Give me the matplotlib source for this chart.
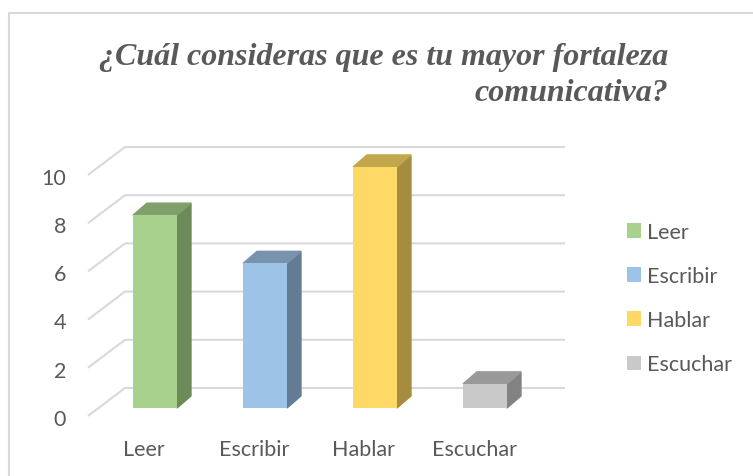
import matplotlib.pyplot as plt
from matplotlib.patches import Polygon

categorias = ["Leer", "Escribir", "Hablar", "Escuchar"]
valores = [8, 6, 10, 1]
ticks = [0, 2, 4, 6, 8, 10]
titulo = "¿Cuál consideras que es tu mayor fortaleza\ncomunicativa?"

frente = ["#A9D18E", "#9DC3E6", "#FFD966", "#C9C9C9"]
lado = ["#6D8A5A", "#637C94", "#A58C3E", "#828282"]
tapa = ["#809F6B", "#7893AE", "#C3A74C", "#999999"]

gris = "#595959"
plt.rcParams["font.family"] = ["Lato", "DejaVu Sans"]

fig = plt.figure(figsize=(7.53, 4.77), dpi=100)
ax = fig.add_axes([100 / 753, 68 / 477, 440 / 753, 241 / 477])
ax.set_xlim(-0.5, 3.5)
ax.set_ylim(0, 10)
ax.axis("off")

# profundidad de las barras y del plano del fondo (unidades de datos)
dx, dy = 0.127, 0.5
fx, fy = -0.109, -0.33
bx, by = 0.227, 0.83
ancho = 0.4

for v in ticks:
    ax.plot([-0.5 + fx, -0.5 + bx, 3.5 + bx], [v + fy, v + by, v + by],
            color="#D9D9D9", lw=1.5, clip_on=False, zorder=1,
            solid_capstyle="butt")
    ax.text(-0.81, v - 0.45, str(v), ha="right", va="center",
            fontsize=15.5, color=gris)

x = list(range(len(categorias)))
barras = ax.bar(x, valores, width=ancho, color=frente, zorder=3,
                clip_on=False)
for i, v in enumerate(valores):
    r = i + ancho / 2
    l = i - ancho / 2
    ax.add_patch(Polygon([(r, 0), (r + dx, dy), (r + dx, v + dy), (r, v)],
                         closed=True, color=lado[i], zorder=2, clip_on=False))
    ax.add_patch(Polygon([(l, v), (l + dx, v + dy), (r + dx, v + dy), (r, v)],
                         closed=True, color=tapa[i], zorder=2, clip_on=False))
    ax.text(i - 0.1, -1.7, categorias[i], ha="center", va="center",
            fontsize=15.5, color=gris)

fig.legend(barras, categorias, loc="upper left",
           bbox_to_anchor=(627 / 753, (477 - 223) / 477),
           frameon=False, fontsize=15.5, labelcolor=gris,
           handlelength=0.65, handleheight=0.65, handletextpad=0.3,
           labelspacing=1.12, borderpad=0, borderaxespad=0)

fig.text(668 / 753, 1 - 43 / 477, titulo, ha="right", va="top",
         multialignment="right", fontsize=23, fontweight="bold",
         fontstyle="italic", family="Liberation Serif", color=gris,
         linespacing=1.3)

# borde del gráfico
fig.add_artist(plt.Line2D([9 / 753, 9 / 753, 1], [0, 1 - 14 / 477, 1 - 14 / 477],
                          color="#D9D9D9", lw=1.5))

fig.savefig("out.png", dpi=100, facecolor="white")
